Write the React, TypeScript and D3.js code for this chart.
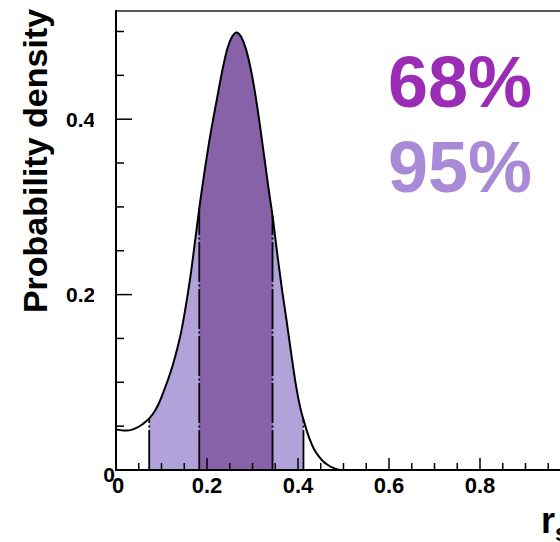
import React from "react";
import * as d3 from "d3";

const W = 560;
const H = 542;

// Probability density read at bin centres 0.005, 0.015, ... (bin width 0.01)
const binWidth = 0.01;
const density = [
  0.046, 0.045, 0.045, 0.046, 0.048, 0.051, 0.055, 0.06, 0.067, 0.077,
  0.09, 0.104, 0.12, 0.139, 0.162, 0.192, 0.226, 0.266, 0.306, 0.342,
  0.375, 0.404, 0.432, 0.459, 0.481, 0.494, 0.499, 0.494, 0.481, 0.46,
  0.432, 0.398, 0.36, 0.322, 0.286, 0.244, 0.205, 0.17, 0.133, 0.098,
  0.071, 0.052, 0.036, 0.024, 0.016, 0.01, 0.006, 0.003, 0.001, 0.0,
];

const ci95 = [0.073, 0.412];
const ci68 = [0.183, 0.344];

const xTickLabels = ["0", "0.2", "0.4", "0.6", "0.8"];
const xTickValues = [0, 0.2, 0.4, 0.6, 0.8];
const yTickLabels = ["0", "0.2", "0.4"];
const yTickValues = [0, 0.2, 0.4];
const minorStep = 0.05;

const yTitle = "Probability density";
const legend68 = "68%";
const legend95 = "95%";

const x = d3.scaleLinear().domain([0, 1]).range([116, 571]);
const y = d3.scaleLinear().domain([0, 0.5]).range([470, 31.5]);

const FONT = "'Liberation Sans', Arial, Helvetica, sans-serif";

export default function App() {
  const pts: [number, number][] = [[0, density[0]]];
  density.forEach((d, i) => pts.push([(i + 0.5) * binWidth, d]));

  const line = d3
    .line<[number, number]>()
    .x((p) => x(p[0]))
    .y((p) => y(p[1]))
    .curve(d3.curveMonotoneX);
  const area = d3
    .area<[number, number]>()
    .x((p) => x(p[0]))
    .y0(y(0))
    .y1((p) => y(p[1]))
    .curve(d3.curveMonotoneX);

  const interp = d3
    .scaleLinear()
    .domain(pts.map((p) => p[0]))
    .range(pts.map((p) => p[1]));

  const minorTicksX = d3.range(0, 1.0001, minorStep).filter((v) => x(v) <= W);
  const minorTicksY = d3.range(0, 0.5001, minorStep);

  const isMajor = (v: number) => Math.abs(v / 0.2 - Math.round(v / 0.2)) < 1e-6;

  const bounds = [ci95[0], ci68[0], ci68[1], ci95[1]];

  return (
    <svg
      width={W}
      height={H}
      style={{ position: "absolute", left: 0, top: 0, background: "#fff" }}
      fontFamily={FONT}
    >
      <defs>
        <clipPath id="c95">
          <rect x={x(ci95[0])} y={0} width={x(ci95[1]) - x(ci95[0])} height={H} />
        </clipPath>
        <clipPath id="c68">
          <rect x={x(ci68[0])} y={0} width={x(ci68[1]) - x(ci68[0])} height={H} />
        </clipPath>
        <clipPath id="ylab">
          <rect x={0} y={0} width={94} height={H} />
        </clipPath>
      </defs>

      {/* fills */}
      <path d={area(pts) || ""} fill="#b1a3d9" clipPath="url(#c95)" />
      <path d={area(pts) || ""} fill="#8762a8" clipPath="url(#c68)" />

      {/* boundary lines */}
      {bounds.map((b, i) => (
        <line
          key={i}
          x1={x(b)}
          x2={x(b)}
          y1={y(0)}
          y2={y(interp(b))}
          stroke="#000"
          strokeWidth={1.8}
          strokeDasharray="40 2.5 2 2.5"
        />
      ))}

      {/* density outline */}
      <path d={line(pts) || ""} fill="none" stroke="#000" strokeWidth={2} />

      {/* frame */}
      <line x1={116} x2={W} y1={11} y2={11} stroke="#555" strokeWidth={2} />
      <line x1={116} x2={116} y1={10} y2={471} stroke="#000" strokeWidth={2} />
      <line x1={115} x2={W} y1={470} y2={470} stroke="#000" strokeWidth={2} />

      {/* y ticks */}
      {minorTicksY.map((v, i) => (
        <line
          key={"yt" + i}
          x1={116}
          x2={116 + (isMajor(v) ? 16 : 8)}
          y1={y(v)}
          y2={y(v)}
          stroke="#000"
          strokeWidth={1.5}
        />
      ))}
      {/* x ticks */}
      {minorTicksX.map((v, i) => (
        <line
          key={"xt" + i}
          x1={x(v)}
          x2={x(v)}
          y1={470}
          y2={470 - (isMajor(v) ? 12 : 7)}
          stroke="#000"
          strokeWidth={1.5}
        />
      ))}

      {/* y tick labels */}
      {yTickValues.map((v, i) =>
        v === 0 ? (
          <text key={"yl" + i} x={115} y={y(v) + 12} textAnchor="end" fontSize={21} fontWeight="bold">
            {yTickLabels[i]}
          </text>
        ) : (
          <text
            key={"yl" + i}
            x={66}
            y={y(v) + 7.5}
            fontSize={21}
            fontWeight="bold"
            clipPath="url(#ylab)"
          >
            {yTickLabels[i]}
          </text>
        )
      )}

      {/* x tick labels */}
      {xTickValues.map((v, i) => (
        <text
          key={"xl" + i}
          x={x(v) + (v === 0 ? 2 : 0)}
          y={493}
          textAnchor="middle"
          fontSize={22}
          fontWeight="bold"
        >
          {xTickLabels[i]}
        </text>
      ))}

      {/* axis titles */}
      <text
        transform={`translate(47,161) rotate(-90)`}
        textAnchor="middle"
        fontSize={34}
        fontWeight="bold"
      >
        {yTitle}
      </text>
      <text x={541} y={533} fontSize={36} fontWeight="bold">
        r<tspan fontSize={24} dy={8}>s</tspan>
      </text>

      {/* legend */}
      <text x={388} y={107} fontSize={72} fontWeight="bold" fill="#9a2cb6">
        {legend68}
      </text>
      <text x={388} y={192} fontSize={72} fontWeight="bold" fill="#a98ad6">
        {legend95}
      </text>
    </svg>
  );
}
